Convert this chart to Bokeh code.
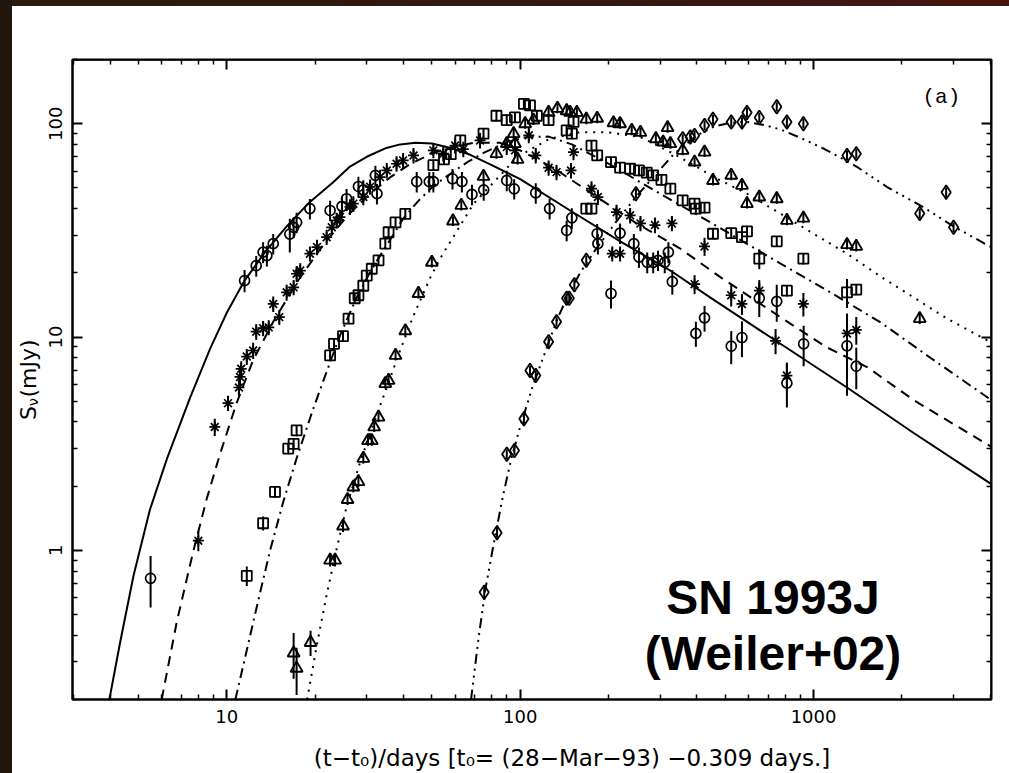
import math
from bokeh.plotting import figure
from bokeh.models import LogAxis, FixedTicker, BasicTickFormatter, Label, Spacer
from bokeh.layouts import row, column
from bokeh.embed import file_html
from bokeh.resources import INLINE

# ---------------- data (days since explosion, flux density in mJy) ----------------
# 1.2 cm  (open circles, solid model curve)
c_t = [5.5, 11.5, 12.6, 13.3, 13.7, 14.4, 16.4, 16.9, 17.3, 19.2, 22.5, 24.7, 25.6, 28.1, 29.2, 32.1, 32.5,
       44.4, 49.0, 50.6, 58.8, 63.3, 68.5, 75.1, 90.0, 95.4, 113, 126, 144, 150, 183, 184, 204, 219, 244,
       254, 271, 284, 295, 311, 320, 330, 397, 425, 524, 570, 653, 749, 811, 925, 1300, 1398]
c_s = [0.74, 18.4, 21.6, 25.0, 24.1, 27.4, 30.4, 32.7, 34.5, 40.0, 39.2, 41.0, 44.5, 50.8, 49.0, 57.3, 47.0,
       53.5, 53.5, 53.5, 55.2, 53.5, 46.6, 49.0, 54.2, 49.5, 47.4, 40.0, 31.6, 36.2, 30.5, 27.4, 16.0, 30.7, 27.4,
       23.7, 22.4, 22.4, 22.9, 22.4, 25.0, 18.2, 10.4, 12.3, 9.06, 9.95, 15.2, 14.7, 6.08, 9.3, 9.1, 7.3]
c_e = [0.2, 2.2, 2.4, 2.8, 2.7, 3.0, 5.5, 3.6, 3.8, 4.4, 4.3, 4.5, 4.9, 5.6, 5.4, 6.3, 5.2,
       5.9, 5.9, 5.9, 6.1, 5.9, 5.1, 5.4, 6.0, 5.4, 5.2, 4.4, 3.5, 4.0, 3.4, 3.0, 2.4, 3.4, 3.0,
       2.6, 2.5, 2.5, 2.5, 2.5, 2.8, 2.4, 1.4, 1.7, 1.6, 1.9, 2.8, 2.9, 1.4, 2.0, 3.8, 1.6]

# 2 cm  (asterisks, dashed model curve)
a_t = [8.0, 9.1, 10.1, 11.0, 11.1, 11.2, 11.7, 12.3, 12.6, 13.3, 13.9, 14.4, 15.1, 16.0, 16.9, 17.3, 17.8,
       19.2, 20.3, 21.9, 22.8, 23.7, 24.3, 26.3, 27.0, 29.2, 30.8, 33.3, 35.1, 37.9, 39.9, 43.3, 50.6, 54.7,
       60.0, 64.0, 73.0, 90.0, 96.0, 107, 113, 125, 133, 149, 152, 175, 184, 206, 213, 219, 237, 257, 288,
       329, 393, 425, 524, 570, 653, 742, 811, 923, 1300, 1398]
a_s = [1.11, 3.79, 4.9, 5.8, 6.5, 7.1, 8.1, 8.65, 10.6, 11.0, 11.1, 14.3, 12.4, 16.2, 17.1, 19.8, 20.5,
       24.6, 26.4, 29.4, 32.7, 35.2, 36.5, 40.7, 42.2, 45.3, 50.6, 56.2, 60.4, 64.9, 67.3, 71.0, 75.0, 72.4,
       79.0, 76.0, 83.5, 77.7, 75.0, 88.2, 71.0, 62.2, 59.3, 60.4, 73.6, 49.6, 45.3, 24.6, 38.5, 24.6, 37.2, 34.1, 33.5,
       34.1, 17.7, 26.6, 15.7, 14.3, 16.5, 9.6, 6.6, 14.3, 10.4, 10.8]
a_e = [0.12, 0.35, 0.4, 0.5, 0.55, 0.6, 0.7, 0.75, 0.9, 0.9, 0.9, 1.2, 1.0, 1.4, 1.4, 1.7, 1.7,
       2.0, 2.2, 2.4, 2.7, 2.9, 3.0, 3.4, 3.5, 3.8, 4.2, 4.6, 5.0, 5.4, 5.6, 5.9, 6.2, 6.0,
       6.5, 6.3, 6.9, 6.4, 6.2, 7.3, 5.9, 5.1, 4.9, 5.0, 6.1, 4.1, 3.7, 2.0, 3.2, 2.0, 3.1, 2.8, 2.8,
       2.8, 1.8, 2.6, 1.8, 1.6, 2.0, 1.3, 1.0, 1.8, 2.2, 1.6]

# 3.6 cm  (open squares, dash-dot model curve)
s_t = [11.7, 13.3, 14.6, 16.2, 16.9, 17.3, 22.5, 23.2, 24.9, 26.0, 27.3, 28.1, 29.2, 30.0, 31.2, 32.9, 34.7,
       35.6, 37.6, 40.6, 50.6, 55.0, 58.0, 62.5, 75.0, 83.0, 90.0, 96.0, 103, 108, 114, 125, 144, 150, 152,
       168, 175, 175, 183, 204, 219, 237, 254, 270, 284, 303, 325, 358, 393, 397, 425, 454, 524, 570, 593,
       653, 749, 811, 923, 1300, 1398]
s_s = [0.76, 1.34, 1.88, 3.0, 3.16, 3.65, 8.2, 9.3, 10.1, 12.2, 15.2, 15.7, 17.4, 19.4, 20.9, 22.9, 27.4,
       31.0, 34.5, 37.8, 63.9, 68.0, 72.0, 83.5, 89.8, 109, 104, 107, 124, 122, 109, 104, 93.0, 89.8, 102,
       40.0, 40.0, 79.0, 71.0, 66.1, 62.2, 61.5, 60.4, 59.0, 57.3, 54.6, 49.6, 43.7, 42.2, 40.0, 40.4, 30.5, 30.7, 29.4, 31.3,
       23.3, 28.1, 16.5, 23.3, 16.2, 16.7]
s_e = [0.08, 0.1, 0.12, 0.18, 0.19, 0.22, 0.5, 0.55, 0.6, 0.7, 0.9, 0.9, 1.0, 1.1, 1.2, 1.3, 1.6,
       1.8, 2.0, 2.2, 3.8, 4.0, 4.2, 4.9, 5.3, 6.4, 6.1, 6.3, 7.3, 7.2, 6.4, 6.1, 5.5, 5.3, 6.0,
       2.4, 2.4, 4.6, 4.2, 3.9, 3.7, 3.6, 3.6, 3.5, 3.4, 3.2, 2.9, 2.6, 2.5, 2.4, 2.4, 1.8, 1.8, 1.7, 1.8,
       2.5, 1.7, 1.0, 1.4, 2.5, 1.0]

# 6 cm  (open triangles, dotted model curve)
t_t = [16.9, 17.3, 19.3, 22.5, 23.4, 24.9, 25.8, 27.0, 28.1, 29.2, 30.3, 31.2, 31.8, 32.9, 34.7, 35.6, 37.6,
       40.6, 45.0, 50.0, 59.0, 63.0, 75.0, 83.0, 90.0, 95.0, 96.0, 98.0, 104, 111, 125, 134, 144, 148, 156,
       168, 183, 208, 219, 240, 257, 290, 307, 318, 325, 358, 393, 425, 454, 524, 570, 593, 653, 749, 811,
       923, 1300, 1398, 2300]
t_s = [0.33, 0.28, 0.37, 0.90, 0.90, 1.30, 1.73, 1.98, 2.10, 2.70, 3.27, 3.27, 3.79, 4.21, 6.05, 6.26, 8.2,
       10.7, 16.0, 22.4, 35.0, 41.4, 56.6, 72.4, 80.6, 89.8, 80.6, 68.0, 100, 104, 113, 118, 115, 113, 113,
       105, 106, 101, 100, 93.0, 91.0, 85.0, 82.0, 95.8, 80.6, 75.0, 66.1, 73.6, 54.2, 57.3, 51.4, 42.2, 45.3, 44.5, 35.2,
       36.1, 27.1, 26.6, 12.2]
t_e = [0.08, 0.07, 0.05, 0.06, 0.06, 0.08, 0.1, 0.11, 0.12, 0.15, 0.18, 0.18, 0.2, 0.22, 0.32, 0.33, 0.43,
       0.56, 0.84, 1.2, 1.8, 2.2, 3.0, 3.8, 4.2, 4.7, 4.2, 3.6, 5.2, 5.4, 5.9, 6.1, 6.0, 5.9, 5.9,
       5.5, 5.5, 5.3, 5.2, 4.8, 4.7, 4.4, 4.3, 5.0, 4.2, 3.9, 3.4, 3.8, 2.8, 3.0, 2.7, 2.2, 2.4, 2.3, 1.8,
       1.9, 1.4, 1.4, 0.7]

# 20 cm  (open diamonds, dash-dot-dot-dot model curve)
d_t = [75.4, 83.4, 90.0, 95.6, 103, 108, 113, 125, 133, 144, 147, 153, 168, 248, 358, 380, 393, 425, 454,
       524, 570, 593, 653, 749, 811, 923, 1300, 1398, 2300, 2830, 3000]
d_s = [0.637, 1.21, 2.82, 2.94, 4.14, 6.97, 6.6, 9.5, 11.8, 15.2, 15.2, 17.6, 22.9, 47.0, 85.0, 86.6, 88.1, 98.2, 105,
       102, 102, 113, 107, 120, 102, 100, 71.0, 72.4, 37.9, 47.7, 32.7]
d_e = [0.05, 0.08, 0.15, 0.15, 0.22, 0.35, 0.35, 0.5, 0.6, 0.8, 0.8, 0.9, 1.2, 2.4, 4.3, 4.4, 4.5, 5.0, 5.3,
       5.2, 5.2, 5.7, 5.4, 6.0, 5.2, 5.1, 3.6, 3.7, 2.0, 2.5, 1.7]

# model light curves
sol_t = [3.98, 4.33, 4.81, 5.47, 6.26, 7.5, 8.77, 10.0, 11.5, 13.5, 16.0, 19.2, 23.0, 26.3, 30.0, 35.0, 39.0,
         44.0, 50.0, 58.0, 67.6, 80.0, 100, 148, 220, 325, 445, 771, 1300, 2200, 4047]
sol_s = [0.2, 0.37, 0.76, 1.55, 2.7, 5.2, 8.8, 13.0, 18.4, 25.0, 33.0, 43.0, 53.0, 63.0, 70.0, 77.0, 80.0,
         81.5, 80.8, 77.0, 71.5, 64.0, 55.0, 39.2, 28.0, 20.5, 15.3, 9.3, 5.8, 3.54, 2.04]

das_t = [6.0, 6.75, 7.7, 8.55, 9.5, 10.8, 12.3, 14.4, 16.0, 17.3, 21.3, 26.0, 30.8, 36.0, 42.0, 50.0, 58.0,
         70.0, 85.0, 100, 130, 169, 250, 351, 481, 771, 1100, 1530, 2200, 4047]
das_s = [0.2, 0.46, 1.0, 1.75, 2.85, 4.9, 7.8, 11.8, 15.0, 18.0, 27.0, 37.5, 47.0, 56.0, 64.5, 72.5, 77.5,
         81.5, 81.5, 75.0, 62.0, 48.7, 34.0, 26.0, 19.1, 12.4, 9.0, 7.2, 5.05, 3.05]

dd_t = [10.7, 11.7, 12.6, 14.05, 15.6, 17.3, 19.7, 22.0, 24.4, 27.7, 31.0, 34.2, 40.0, 45.0, 50.6, 57.8, 66.0,
        75.0, 90.0, 105, 125, 150, 200, 300, 470, 780, 1132, 1694, 2500, 4047]
dd_s = [0.2, 0.34, 0.53, 1.0, 1.7, 2.7, 4.6, 7.0, 10.3, 15.3, 20.5, 25.5, 36.0, 43.5, 51.0, 58.3, 66.0,
        73.0, 82.0, 86.5, 87.0, 80.0, 65.0, 47.0, 33.0, 21.9, 16.3, 11.7, 8.0, 5.05]

dt_t = [18.8, 20.2, 21.9, 23.7, 25.6, 28.5, 31.6, 35.1, 38.9, 43.3, 49.4, 53.3, 60.0, 69.4, 80.0, 97.7, 126,
        160, 198, 257, 333, 401, 457, 593, 771, 1000, 1300, 1694, 2200, 2850, 4047]
dt_s = [0.2, 0.35, 0.62, 1.02, 1.6, 2.6, 3.9, 5.8, 8.6, 12.6, 19.0, 23.3, 30.4, 42.2, 52.0, 69.8, 85.0,
        91.3, 91.3, 86.6, 72.4, 62.6, 56.2, 47.0, 37.9, 30.5, 24.6, 19.2, 15.3, 12.2, 9.4]

dm_t = [68, 72, 76, 81, 87, 93, 100, 110, 122, 134, 146, 160, 180, 210, 250, 290, 334, 400, 457, 520, 593,
        680, 771, 900, 1085, 1400, 1780, 2370, 3000, 4047]
dm_s = [0.2, 0.38, 0.65, 1.05, 1.75, 2.65, 3.8, 5.8, 8.6, 12.2, 15.8, 20.0, 25.5, 34.0, 46.0, 58.0, 72.0,
        88.0, 97.0, 101, 102, 98.5, 94.0, 86.0, 76.3, 63.0, 50.5, 40.6, 33.0, 26.3]

x_major = [10, 100, 1000]
y_major = [1, 10, 100]

# ---------------- main figure (page x 41..1009, y 6..735) ----------------
X_LO, X_HI = 2.98, 4040
Y_LO, Y_HI = 0.2, 200
BORDER_T, BORDER_B = 53, 36

p = figure(width=968, height=729, x_axis_type="log", y_axis_type="log",
           x_range=(X_LO, X_HI), y_range=(Y_LO, Y_HI),
           output_backend="svg", toolbar_location=None,
           min_border_left=31, min_border_right=18, min_border_top=BORDER_T, min_border_bottom=BORDER_B,
           background_fill_color="white", border_fill_color="white",
           outline_line_color="black", outline_line_width=2)
p.grid.visible = False

x_minor = [m * d for d in (1, 10, 100, 1000) for m in range(2, 10) if X_LO <= m * d <= X_HI]
y_minor = [m * d for d in (0.1, 1, 10, 100) for m in range(2, 10) if Y_LO * 0.999 <= m * d <= Y_HI * 1.001]


def style_ticks(ax):
    ax.major_tick_in = 10
    ax.major_tick_out = 0
    ax.minor_tick_in = 5
    ax.minor_tick_out = 0
    ax.major_tick_line_width = 2
    ax.minor_tick_line_width = 1.5
    ax.major_tick_line_color = "black"
    ax.minor_tick_line_color = "black"
    ax.axis_line_width = 2
    ax.axis_line_color = "black"
    ax.axis_label = None


for ax, maj, mnr in ((p.xaxis[0], x_major, x_minor), (p.yaxis[0], y_major, y_minor)):
    ax.ticker = FixedTicker(ticks=maj, minor_ticks=mnr)
    ax.formatter = BasicTickFormatter()
    style_ticks(ax)
    ax.major_label_text_font = "DejaVu Sans"
    ax.major_label_text_font_size = "18px"
    ax.major_label_text_color = "black"
    ax.major_label_standoff = 10
p.yaxis[0].major_label_orientation = "vertical"

# mirrored tick marks on the top and right edges (no labels)
for place, loc, maj, mnr in (("above", Y_HI, x_major, x_minor), ("right", X_HI, y_major, y_minor)):
    for ticks, length, lw in ((maj, 10, 2), (mnr, 5, 1.5)):
        ax = LogAxis(ticker=FixedTicker(ticks=[], minor_ticks=ticks), fixed_location=loc)
        style_ticks(ax)
        ax.minor_tick_in = length
        ax.minor_tick_line_width = lw
        ax.major_label_standoff = 0
        p.add_layout(ax, place)

# ---------------- model curves ----------------
p.line(sol_t, sol_s, line_color="black", line_width=2)
p.line(das_t, das_s, line_color="black", line_width=2, line_dash="10 7")
p.line(dd_t, dd_s, line_color="black", line_width=2, line_dash="10 5 2 5")
p.line(dt_t, dt_s, line_color="black", line_width=2, line_dash="2 6")
p.line(dm_t, dm_s, line_color="black", line_width=2, line_dash="10 5 2 5 2 5 2 5")

# ---------------- data with error bars ----------------
series = [
    (c_t, c_s, c_e, "circle", 10, 1.7),
    (a_t, a_s, a_e, "asterisk", 11, 1.7),
    (s_t, s_s, s_e, "square", 10, 1.8),
    (t_t, t_s, t_e, "triangle", 12, 1.9),
    (d_t, d_s, d_e, "diamond", 14, 1.8),
]
for t, s, e, mk, sz, lw in series:
    p.segment(x0=t, y0=[v - er for v, er in zip(s, e)], x1=t, y1=[v + er for v, er in zip(s, e)],
              line_color="black", line_width=2)
    p.scatter(t, s, marker=mk, size=sz, fill_color=None, line_color="black", line_width=lw)


def lab(fig, **kw):
    base = dict(x_units="screen", y_units="screen", text_color="black", text_baseline="alphabetic")
    base.update(kw)
    fig.add_layout(Label(**base))

# texts inside the frame (frame left = 72 px, frame bottom = 699 px on the page)
lab(p, x=850, y=602, text="(a)", text_font="Liberation Mono", text_font_size="21px", text_align="left")
lab(p, x=700.5, y=102, text="SN 1993J", text_font="Liberation Sans", text_font_size="48px",
    text_font_style="bold", text_align="center")
lab(p, x=700.5, y=46, text="(Weiler+02)", text_font="Liberation Sans", text_font_size="48px",
    text_font_style="bold", text_align="center")


def blank(w, h, **kw):
    f = figure(width=w, height=h, output_backend="svg", toolbar_location=None, title=None,
               x_axis_location=None, y_axis_location=None,
               background_fill_color="white", border_fill_color="white", outline_line_color=None,
               x_range=(0, 1), y_range=(0, 1), **kw)
    f.grid.visible = False
    return f

# y-axis title S_nu(mJy), rotated and centred on its own line; strip spans page x 12..41,
# its frame is aligned with the main frame (page y 59..699)
ylab = blank(29, 729, min_border_left=0, min_border_right=0,
             min_border_top=BORDER_T, min_border_bottom=BORDER_B)
lab(ylab, x=15.5, y=279.5, text="S", text_font="DejaVu Sans", text_font_size="22px",
    text_align="left", text_baseline="middle", angle=math.pi / 2)
lab(ylab, x=20, y=293.5, text="\u03bd", text_font="DejaVu Sans", text_font_size="14px",
    text_align="left", text_baseline="middle", angle=math.pi / 2)
lab(ylab, x=15.5, y=302, text="(mJy)", text_font="DejaVu Sans", text_font_size="22px",
    text_align="left", text_baseline="middle", angle=math.pi / 2)

# x-axis title; strip spans page x 12..1009, y 735..773
xlab = blank(997, 38, min_border=0)
lab(xlab, x=559.5, y=16, text="(t\u2212t\u2080)/days [t\u2080= (28\u2212Mar\u221293) \u22120.309 days.]",
    text_font="DejaVu Sans", text_font_size="23px", text_align="center")

# ---------------- dark photographic border ----------------
left_strip = Spacer(width=12, height=773, styles={"background-color": "#22150b"})
top_strip = Spacer(width=997, height=6,
                   styles={"background": "linear-gradient(90deg, #2a1b10 0%, #33180f 60%, #45140f 100%)"})
layout = row(left_strip, column(top_strip, row(ylab, p, spacing=0), xlab, spacing=0), spacing=0)

open("out.html", "w").write(file_html(layout, INLINE))
